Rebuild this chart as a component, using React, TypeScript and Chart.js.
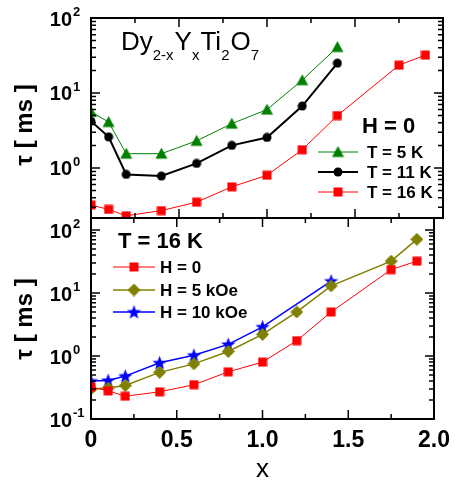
import React, { useEffect, useRef } from 'react';
import { Chart, registerables } from 'chart.js';

Chart.register(...registerables);

const W = 458;
const H = 481;
const FONT = '"Liberation Sans", Arial, Helvetica, sans-serif';

// ---- data ----
const xTopT = [0, 0.1, 0.2, 0.4, 0.6, 0.8, 1.0, 1.2, 1.4];
const tauT5K = [5.6, 4.1, 1.55, 1.55, 2.3, 3.9, 6.0, 14.8, 41];
const tauT11K = [4.2, 2.6, 0.82, 0.78, 1.15, 2.0, 2.55, 6.7, 25];
const xAll = [0, 0.1, 0.2, 0.4, 0.6, 0.8, 1.0, 1.2, 1.4, 1.75, 1.9];
const tauH0 = [0.32, 0.28, 0.23, 0.27, 0.35, 0.56, 0.8, 1.75, 5.0, 23.5, 32];
const tauH5kOe = [0.3, 0.31, 0.34, 0.55, 0.75, 1.18, 2.2, 5.0, 13, 32, 71];
const x10kOe = [0, 0.1, 0.2, 0.4, 0.6, 0.8, 1.0, 1.4];
const tauH10kOe = [0.4, 0.41, 0.48, 0.78, 1.03, 1.53, 2.9, 15.5];

const xTickValues = [0, 0.5, 1.0, 1.5, 2.0];
const xTickLabels = ['0', '0.5', '1.0', '1.5', '2.0'];
const yTickTop = [1, 10, 100];
const yTickBottom = [0.1, 1, 10, 100];
const topLegendLabels = ['T = 5 K', 'T = 11 K', 'T = 16 K'];
const bottomLegendLabels = ['H = 0', 'H = 5 kOe', 'H = 10 kOe'];

const GREEN = '#008000';
const BLACK = '#000000';
const RED = '#ff0000';
const OLIVE = '#808000';
const BLUE = '#0000ff';

function makeMarker(kind: string, color: string, size: number): HTMLCanvasElement {
  const c = document.createElement('canvas');
  c.width = size;
  c.height = size;
  const g = c.getContext('2d')!;
  g.fillStyle = color;
  const s = size;
  const h = s / 2;
  g.beginPath();
  if (kind === 'triangle') {
    g.moveTo(h, 0.5);
    g.lineTo(s - 0.5, s - 1.5);
    g.lineTo(0.5, s - 1.5);
  } else if (kind === 'circle') {
    g.arc(h, h, h - 0.5, 0, Math.PI * 2);
  } else if (kind === 'square') {
    g.rect(0.5, 0.5, s - 1, s - 1);
  } else if (kind === 'diamond') {
    g.moveTo(h, 0);
    g.lineTo(s, h);
    g.lineTo(h, s);
    g.lineTo(0, h);
  } else if (kind === 'star') {
    for (let i = 0; i < 10; i++) {
      const r = i % 2 === 0 ? h : h * 0.42;
      const ang = -Math.PI / 2 + (i * Math.PI) / 5;
      const px = h + r * Math.cos(ang);
      const py = h + 0.6 + r * Math.sin(ang);
      if (i === 0) g.moveTo(px, py);
      else g.lineTo(px, py);
    }
  }
  g.closePath();
  g.fill();
  return c;
}

function pts(xs: number[], ys: number[]) {
  return xs.map((x, i) => ({ x, y: ys[i] }));
}

type PanelCfg = {
  yTicks: number[];
  header: { text: string; x: number; y: number };
  legend: { x0: number; x1: number; xText: number; ys: number[] };
  titleY: number;
  formula?: boolean;
};

function panelPlugin(cfg: PanelCfg) {
  return {
    id: 'panelDecor',
    afterDraw(chart: any) {
      const ctx: CanvasRenderingContext2D = chart.ctx;
      const a = chart.chartArea;
      const xs = chart.scales.x;
      const ys = chart.scales.y;
      ctx.save();
      // ticks (inward, all four sides)
      ctx.strokeStyle = '#000';
      ctx.lineWidth = 1.5;
      ctx.beginPath();
      for (let k = 0; k <= 8; k++) {
        const v = k * 0.25;
        const px = xs.getPixelForValue(v);
        const L = k % 2 === 0 ? 9 : 5;
        ctx.moveTo(px, a.bottom);
        ctx.lineTo(px, a.bottom - L);
        ctx.moveTo(px, a.top);
        ctx.lineTo(px, a.top + L);
      }
      const e0 = Math.floor(Math.log10(ys.min) + 1e-9);
      const e1 = Math.ceil(Math.log10(ys.max) - 1e-9);
      for (let e = e0; e <= e1; e++) {
        for (let m = 1; m <= 9; m++) {
          const v = m * Math.pow(10, e);
          if (v < ys.min * 0.999 || v > ys.max * 1.001) continue;
          const py = ys.getPixelForValue(v);
          const L = m === 1 ? 9 : 5;
          ctx.moveTo(a.left, py);
          ctx.lineTo(a.left + L, py);
          ctx.moveTo(a.right, py);
          ctx.lineTo(a.right - L, py);
        }
      }
      ctx.stroke();
      ctx.lineWidth = 2;
      ctx.strokeRect(a.left, a.top, a.right - a.left, a.bottom - a.top);

      // y tick labels 10^n
      ctx.fillStyle = '#000';
      for (const v of cfg.yTicks) {
        const py = ys.getPixelForValue(v);
        const exp = Math.round(Math.log10(v));
        ctx.font = `bold 20px ${FONT}`;
        ctx.textAlign = 'right';
        ctx.textBaseline = 'middle';
        ctx.fillText('10', a.left - 19, py + 2);
        ctx.font = `bold 13px ${FONT}`;
        ctx.textAlign = 'left';
        ctx.fillText(exp < 0 ? '-' + -exp : String(exp), a.left - 18, py - 6);
      }

      // y axis title (rotated)
      ctx.save();
      ctx.translate(25, cfg.titleY);
      ctx.rotate(-Math.PI / 2);
      ctx.font = `bold 24px ${FONT}`;
      ctx.textAlign = 'center';
      ctx.textBaseline = 'middle';
      ctx.fillText('τ [ ms ]', 0, 0);
      ctx.restore();

      // legend header
      ctx.font = `bold 22px ${FONT}`;
      ctx.textAlign = 'left';
      ctx.textBaseline = 'middle';
      ctx.fillText(cfg.header.text, cfg.header.x, cfg.header.y);

      // legend entries
      const ds = chart.data.datasets;
      cfg.legend.ys.forEach((y, i) => {
        const d = ds[i];
        ctx.strokeStyle = d.borderColor;
        ctx.lineWidth = d.borderWidth;
        ctx.beginPath();
        ctx.moveTo(cfg.legend.x0, y);
        ctx.lineTo(cfg.legend.x1, y);
        ctx.stroke();
        const img = d.pointStyle as HTMLCanvasElement;
        ctx.drawImage(img, (cfg.legend.x0 + cfg.legend.x1) / 2 - img.width / 2, y - img.height / 2);
        ctx.fillStyle = '#000';
        ctx.font = `bold 17px ${FONT}`;
        ctx.textBaseline = 'middle';
        ctx.fillText(d.label, cfg.legend.xText, y + 1);
      });

      // chemical formula Dy(2-x)Y(x)Ti(2)O(7)
      if (cfg.formula) {
        const parts: [string, boolean][] = [
          ['Dy', false], ['2-x', true], ['Y', false], ['x', true],
          ['Ti', false], ['2', true], ['O', false], ['7', true],
        ];
        let x = 121;
        const base = 50;
        ctx.textBaseline = 'alphabetic';
        for (const [t, sub] of parts) {
          ctx.font = sub ? `15px ${FONT}` : `26px ${FONT}`;
          ctx.fillText(t, x, sub ? base + 10 : base);
          x += ctx.measureText(t).width + (sub ? 1 : 0);
        }
      }
      ctx.restore();
    },
  };
}

export default function App() {
  const topRef = useRef<HTMLCanvasElement>(null);
  const botRef = useRef<HTMLCanvasElement>(null);

  useEffect(() => {
    const mTri = makeMarker('triangle', GREEN, 13);
    const mCirc = makeMarker('circle', BLACK, 10);
    const mSq = makeMarker('square', RED, 10);
    const mDia = makeMarker('diamond', OLIVE, 13);
    const mStar = makeMarker('star', BLUE, 15);

    const c1 = new Chart(topRef.current!, {
      type: 'line',
      data: {
        datasets: [
          { label: topLegendLabels[0], data: pts(xTopT, tauT5K), borderColor: GREEN, borderWidth: 1, pointStyle: mTri as any, pointRadius: 6 },
          { label: topLegendLabels[1], data: pts(xTopT, tauT11K), borderColor: BLACK, borderWidth: 2, pointStyle: mCirc as any, pointRadius: 5 },
          { label: topLegendLabels[2], data: pts(xAll, tauH0), borderColor: RED, borderWidth: 1, pointStyle: mSq as any, pointRadius: 5 },
        ],
      },
      options: {
        animation: false,
        responsive: false,
        devicePixelRatio: 1,
        layout: { padding: { top: 18, bottom: H - 218, left: 0, right: 15 } },
        plugins: { legend: { display: false }, tooltip: { enabled: false } },
        elements: { line: { tension: 0 } },
        scales: {
          x: { type: 'linear', min: 0, max: 2, display: false },
          y: {
            type: 'logarithmic',
            min: 0.215,
            max: 100,
            ticks: { display: false },
            grid: { display: false, drawTicks: false },
            border: { display: false },
            afterFit: (s: any) => { s.width = 91; },
          },
        },
      },
      plugins: [panelPlugin({
        yTicks: yTickTop,
        header: { text: 'H = 0', x: 362, y: 127 },
        legend: { x0: 318, x1: 358, xText: 367, ys: [152, 172, 192] },
        titleY: 125,
        formula: true,
      })],
    } as any);

    const c2 = new Chart(botRef.current!, {
      type: 'line',
      data: {
        datasets: [
          { label: bottomLegendLabels[0], data: pts(xAll, tauH0), borderColor: RED, borderWidth: 1, pointStyle: mSq as any, pointRadius: 5 },
          { label: bottomLegendLabels[1], data: pts(xAll, tauH5kOe), borderColor: OLIVE, borderWidth: 1.5, pointStyle: mDia as any, pointRadius: 6 },
          { label: bottomLegendLabels[2], data: pts(x10kOe, tauH10kOe), borderColor: BLUE, borderWidth: 1.5, pointStyle: mStar as any, pointRadius: 7 },
        ],
      },
      options: {
        animation: false,
        responsive: false,
        devicePixelRatio: 1,
        layout: { padding: { top: 218, bottom: 0, left: 0, right: 15 } },
        plugins: { legend: { display: false }, tooltip: { enabled: false } },
        elements: { line: { tension: 0 } },
        scales: {
          x: {
            type: 'linear',
            min: 0,
            max: 2,
            afterBuildTicks: (s: any) => { s.ticks = xTickValues.map((v) => ({ value: v })); },
            ticks: {
              autoSkip: false,
              maxRotation: 0,
              padding: 8,
              color: '#000',
              font: { family: FONT, size: 23, weight: 'bold' },
              callback: (_v: any, i: number) => xTickLabels[i],
            },
            grid: { display: false, drawTicks: false },
            border: { display: false },
            title: {
              display: true,
              text: 'x',
              color: '#000',
              font: { family: FONT, size: 26, lineHeight: 0.85 },
              padding: { top: 0, bottom: 0 },
            },
            afterFit: (s: any) => { s.height = 62; },
          },
          y: {
            type: 'logarithmic',
            min: 0.1,
            max: 155,
            ticks: { display: false },
            grid: { display: false, drawTicks: false },
            border: { display: false },
            afterFit: (s: any) => { s.width = 91; },
          },
        },
      },
      plugins: [panelPlugin({
        yTicks: yTickBottom,
        header: { text: 'T = 16 K', x: 118, y: 242 },
        legend: { x0: 113, x1: 155, xText: 160, ys: [267, 290, 312] },
        titleY: 319,
      })],
    } as any);

    return () => {
      c1.destroy();
      c2.destroy();
    };
  }, []);

  return (
    <div style={{ position: 'absolute', left: 0, top: 0, width: W, height: H, background: '#fff' }}>
      <canvas ref={topRef} width={W} height={H} style={{ position: 'absolute', left: 0, top: 0 }} />
      <canvas ref={botRef} width={W} height={H} style={{ position: 'absolute', left: 0, top: 0 }} />
    </div>
  );
}
